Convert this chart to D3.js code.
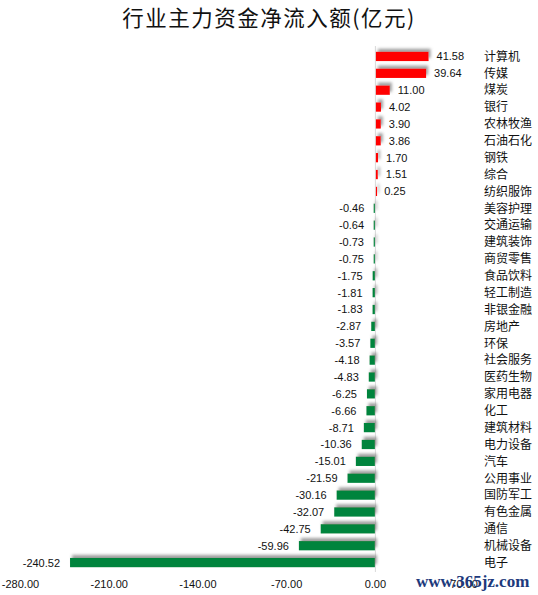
<!DOCTYPE html>
<head>
    <meta charset="utf-8">
    <title>行业主力资金净流入额</title>
    <style>
        body { margin: 0; background: #fff; }
        .title { font-family: "Noto Sans CJK SC", sans-serif; font-size: 21.5px; fill: #111; letter-spacing: 1.5px; }
        .val { font-family: "Liberation Sans", Arial, sans-serif; font-size: 11px; fill: #111; }
        .cat { font-family: "Noto Sans CJK SC", sans-serif; font-size: 12px; fill: #111; }
        .tick text { font-family: "Liberation Sans", Arial, sans-serif; font-size: 11px; fill: #111; }
        .mark { font-family: "Liberation Serif", serif; font-size: 17px; font-weight: bold; fill: #1d3a7c; }
    </style>
    <script src="https://cdn.jsdelivr.net/npm/d3@7"></script>
</head>
<body>
<svg width="538" height="595"></svg>
<script>

var industries = ["计算机","传媒","煤炭","银行","农林牧渔","石油石化","钢铁","综合","纺织服饰",
    "美容护理","交通运输","建筑装饰","商贸零售","食品饮料","轻工制造","非银金融","房地产","环保",
    "社会服务","医药生物","家用电器","化工","建筑材料","电力设备","汽车","公用事业","国防军工",
    "有色金属","通信","机械设备","电子"];
var flows = [41.58,39.64,11.00,4.02,3.90,3.86,1.70,1.51,0.25,
    -0.46,-0.64,-0.73,-0.75,-1.75,-1.81,-1.83,-2.87,-3.57,
    -4.18,-4.83,-6.25,-6.66,-8.71,-10.36,-15.01,-21.59,-30.16,
    -32.07,-42.75,-59.96,-240.52];
var tickValues = [-280,-210,-140,-70,0,70];

var svg = d3.select("svg");

// hyphen minus, like the original
var fmt = function(v) { return d3.format(".2f")(v).replace("\u2212", "-"); };

var x = d3.scaleLinear().domain([-280, 70]).range([20, 463.6]);
var y = d3.scaleBand().domain(industries).range([48, 571])
    .paddingInner(0.45).paddingOuter(0.225);

var defs = svg.append("defs");
var f = defs.append("filter").attr("id", "shadow")
    .attr("filterUnits", "userSpaceOnUse")
    .attr("x", 0).attr("y", 0).attr("width", 538).attr("height", 595);
f.append("feDropShadow").attr("dx", 2).attr("dy", -3)
    .attr("stdDeviation", 1.6).attr("flood-color", "#777").attr("flood-opacity", 0.7);

svg.append("text")
    .attr("class", "title")
    .attr("x", 269).attr("y", 26)
    .attr("text-anchor", "middle")
    .text("行业主力资金净流入额(亿元)");

var data = industries.map(function(d, i) { return {name: d, value: flows[i]}; });

// zero line
svg.append("line")
    .attr("x1", x(0) + 0.5).attr("x2", x(0) + 0.5)
    .attr("y1", 46).attr("y2", 572)
    .attr("stroke", "#d9d9d9").attr("stroke-width", 1);

svg.append("g").selectAll("rect")
    .data(data)
  .enter().append("rect")
    .attr("x", function(d) {
        var w = Math.max(1.2, Math.abs(x(d.value) - x(0)));
        return d.value >= 0 ? x(0) + 1 : x(0) - w;
    })
    .attr("y", function(d) { return y(d.name); })
    .attr("width", function(d) { return Math.max(1.2, Math.abs(x(d.value) - x(0))); })
    .attr("height", y.bandwidth())
    .attr("fill", function(d) { return d.value >= 0 ? "#ff0000" : "#00843d"; })
    .attr("filter", "url(#shadow)");

svg.append("g").selectAll("text")
    .data(data)
  .enter().append("text")
    .attr("class", "val")
    .attr("x", function(d) { return d.value >= 0 ? x(d.value) + 9 : x(d.value) - 10; })
    .attr("y", function(d) { return y(d.name) + y.bandwidth() / 2; })
    .attr("dy", "0.36em")
    .attr("text-anchor", function(d) { return d.value >= 0 ? "start" : "end"; })
    .text(function(d) { return fmt(d.value); });

svg.append("g").selectAll("text")
    .data(data)
  .enter().append("text")
    .attr("class", "cat")
    .attr("x", 484)
    .attr("y", function(d) { return y(d.name) + y.bandwidth() / 2; })
    .attr("dy", "0.36em")
    .text(function(d) { return d.name; });

var axis = d3.axisBottom(x).tickValues(tickValues)
    .tickFormat(fmt).tickSize(0).tickPadding(0);
var ax = svg.append("g").attr("transform", "translate(0,580)").call(axis);
ax.select(".domain").remove();

svg.append("text")
    .attr("class", "mark")
    .attr("x", 416).attr("y", 587)
    .text("www.365jz.com");

</script>
</body>
